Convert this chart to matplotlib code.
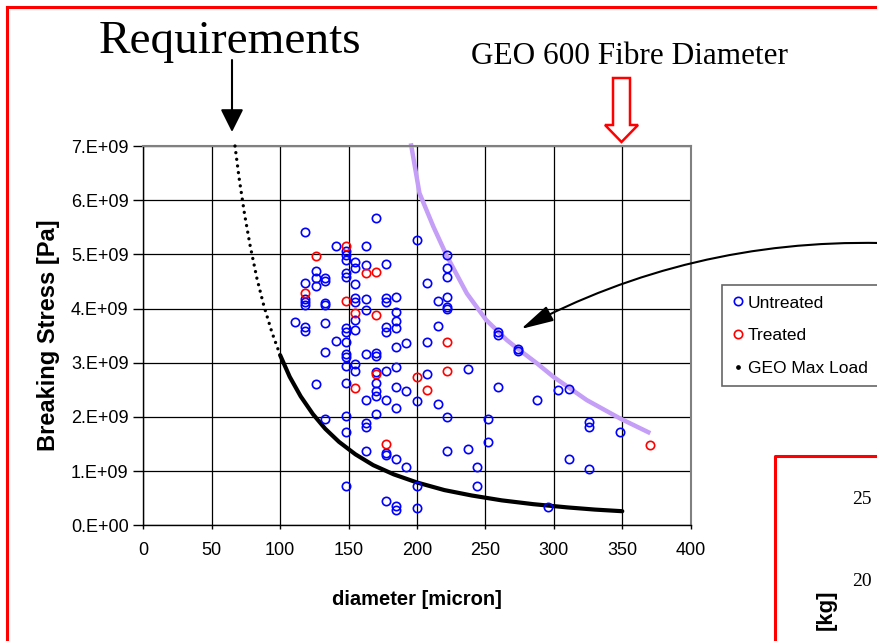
import numpy as np
import matplotlib.pyplot as plt
from matplotlib.lines import Line2D
from matplotlib.patches import Polygon

plt.rcParams['font.family'] = ['Liberation Sans', 'DejaVu Sans']

## untreated fibres: diameter [micron] and breaking stress [1e9 Pa]
untreated_d = ([111] + [118]*7 + [126]*4 + [133]*7 + [141]*2 + [148]*15 + [155]*9 +
               [163]*9 + [170]*8 + [177]*10 + [185]*11 + [192]*3 + [200]*4 +
               [207]*3 + [215]*3 + [222]*8 + [237]*2 + [244]*2 + [252]*2 + [259]*3 +
               [274]*2 + [288] + [296] + [303] + [311]*2 + [326]*3 + [348])
untreated_s = [3.76,
               5.42, 4.47, 4.17, 4.12, 4.07, 3.66, 3.59,
               4.70, 4.57, 4.42, 2.61,
               4.57, 4.50, 4.10, 4.07, 3.73, 3.20, 1.96,
               5.15, 3.41,
               5.06, 4.99, 4.89, 4.65, 4.59, 3.65, 3.56, 3.39, 3.17, 3.11, 2.94, 2.62, 2.02, 1.73, 0.73,
               4.86, 4.74, 4.45, 4.19, 4.12, 3.79, 3.61, 2.98, 2.85,
               5.15, 4.80, 4.18, 3.97, 3.17, 2.31, 1.89, 1.82, 1.38,
               5.68, 3.18, 3.13, 2.83, 2.62, 2.47, 2.39, 2.05,
               4.82, 4.19, 4.12, 3.66, 3.57, 2.85, 2.31, 1.34, 1.30, 0.45,
               4.21, 3.94, 3.77, 3.65, 3.29, 2.92, 2.56, 2.17, 1.23, 0.36, 0.28,
               3.36, 2.47, 1.08,
               5.27, 2.29, 0.73, 0.32,
               4.47, 3.39, 2.79,
               4.14, 3.68, 2.23,
               4.98, 4.74, 4.59, 4.21, 4.02, 3.99, 1.99, 1.38,
               2.88, 1.41,
               1.08, 0.73,
               1.96, 1.53,
               3.56, 3.52, 2.56,
               3.25, 3.21,
               2.32,
               0.34,
               2.50,
               2.52, 1.23,
               1.91, 1.82, 1.03,
               1.73]

## treated fibres
treated_d = [118, 126, 148, 148, 155, 155, 163, 170, 170, 170, 177, 200, 207, 222, 222, 370]
treated_s = [4.29, 4.97, 5.15, 4.14, 3.91, 2.53, 4.65, 4.67, 3.88, 2.79, 1.50, 2.73, 2.50, 3.38, 2.85, 1.49]

## GEO max load curve
geo_d = [67, 70, 74, 78, 83, 88, 94, 100, 107, 115, 124, 133, 143, 155, 168, 183,
         200, 220, 240, 262, 285, 310, 330, 350]
geo_s = [7.00, 6.41, 5.74, 5.17, 4.56, 4.06, 3.56, 3.14, 2.74, 2.38, 2.05, 1.78, 1.54,
         1.31, 1.11, 0.94, 0.79, 0.65, 0.55, 0.46, 0.39, 0.33, 0.29, 0.26]

## lavender curve
lav_d = [195.5, 201.8, 212, 221.8, 236.4, 250.5, 265.6, 273, 287.6, 299.7, 324.1, 348.5, 370.5]
lav_s = [7.05, 6.13, 5.51, 4.97, 4.28, 3.79, 3.42, 3.27, 2.99, 2.74, 2.31, 1.97, 1.70]

xticks = [0, 50, 100, 150, 200, 250, 300, 350, 400]
yticks = [0, 1, 2, 3, 4, 5, 6, 7]
ytick_labels = ['0.E+00', '1.E+09', '2.E+09', '3.E+09', '4.E+09', '5.E+09', '6.E+09', '7.E+09']

W, H = 878, 641
def fp(x, y):
    ## image pixel -> figure fraction
    return (x / W, 1 - y / H)

fig = plt.figure(figsize=(W / 100, H / 100), dpi=100)
ax = fig.add_axes([143.3 / W, 1 - 525.3 / H, (690.7 - 143.3) / W, (525.3 - 146) / H])

e9 = 1e9
ax.plot(lav_d, np.array(lav_s) * e9, color='#c49ef7', lw=3.2, solid_capstyle='butt', clip_on=False, zorder=2)

geo_d = np.array(geo_d); geo_s = np.array(geo_s) * e9
top = geo_d <= 100
ax.plot(geo_d[top], geo_s[top], color='black', lw=2.4, ls=(0, (0.01, 2.0)),
        dash_capstyle='round', clip_on=False, zorder=3)
low = geo_d >= 100
ax.plot(geo_d[low], geo_s[low], color='black', lw=3, solid_capstyle='round', zorder=3)

ax.plot(untreated_d, np.array(untreated_s) * e9, ls='', marker='o', ms=6, mfc='none',
        mec='blue', mew=1.2, zorder=4)
ax.plot(treated_d, np.array(treated_s) * e9, ls='', marker='o', ms=6, mfc='none',
        mec='red', mew=1.2, zorder=5)

ax.set_xlim(0, 400)
ax.set_ylim(0, 7 * e9)
ax.set_xticks(xticks)
ax.set_yticks(np.array(yticks) * e9)
ax.set_yticklabels(ytick_labels)
ax.grid(color='black', lw=0.9)
ax.set_axisbelow(True)
for s in ['left', 'bottom']:
    ax.spines[s].set_color('black'); ax.spines[s].set_linewidth(1.0)
for s in ['top', 'right']:
    ax.spines[s].set_color('#808080'); ax.spines[s].set_linewidth(1.5)
ax.tick_params(axis='y', direction='out', length=7, width=1, pad=3.5, labelsize=13)
ax.tick_params(axis='x', direction='out', length=3, width=1, pad=9, labelsize=13)

ax.set_xlabel('diameter [micron]', fontsize=14.5, fontweight='bold')
ax.xaxis.set_label_coords(0.5, -(590 - 525.3) / 379.3)
ax.xaxis.label.set_va('top')
ax.set_ylabel('Breaking Stress [Pa]', fontsize=17, fontweight='bold')
ax.yaxis.set_label_coords(-(143.3 - 60) / 547.4, 0.5)

handles = [Line2D([], [], ls='', marker='o', ms=6, mfc='none', mec='blue', mew=1.2),
           Line2D([], [], ls='', marker='o', ms=6, mfc='none', mec='red', mew=1.2),
           Line2D([], [], ls='', marker='o', ms=2.4, color='black')]
leg = fig.legend(handles, ['Untreated', 'Treated', 'GEO Max Load'], loc='upper left',
                 bbox_to_anchor=fp(722, 285), borderaxespad=0, fancybox=False,
                 edgecolor='#404040', fontsize=12.5, handlelength=0.6,
                 handletextpad=0.3, borderpad=0.6, labelspacing=1.0)
leg.get_frame().set_linewidth(1.2)

## slide decorations
red = '#ff0000'
fig.add_artist(Line2D([7 / W, 1.01], [1 - 7 / H] * 2, color=red, lw=2.2, transform=fig.transFigure))
fig.add_artist(Line2D([7 / W] * 2, [1 - 7 / H, -0.01], color=red, lw=2.2, transform=fig.transFigure))
fig.add_artist(Line2D([775 / W, 775 / W, 1.01], [-0.01, 1 - 456 / H, 1 - 456 / H], color=red,
                      lw=2.2, transform=fig.transFigure))

fig.text(*fp(230, 53), 'Requirements', ha='center', va='baseline', fontsize=34,
         family='Liberation Serif')
fig.text(*fp(630, 64), 'GEO 600 Fibre Diameter', ha='center', va='baseline', fontsize=22.5,
         family='Liberation Serif')
fig.text(*fp(862, 500), '25', ha='center', va='center', fontsize=14, family='Liberation Serif')
fig.text(*fp(862, 582), '20', ha='center', va='center', fontsize=14, family='Liberation Serif')
fig.text(*fp(826, 610), '[kg]', ha='center', va='center', rotation=90, fontsize=16,
         fontweight='bold')

ax.annotate('', xy=(232, H - 132), xycoords='figure pixels', xytext=(232, H - 60),
            textcoords='figure pixels', annotation_clip=False,
            arrowprops=dict(arrowstyle='-|>,head_length=0.7,head_width=0.35', color='black',
                            lw=1.5, mutation_scale=20, shrinkA=0, shrinkB=0))
ax.annotate('', xy=(521, H - 329), xycoords='figure pixels', xytext=(880, H - 243),
            textcoords='figure pixels', annotation_clip=False,
            arrowprops=dict(arrowstyle='-|>,head_length=1.0,head_width=0.25', color='black',
                            lw=1.5, mutation_scale=20, shrinkA=0, shrinkB=0,
                            connectionstyle='arc3,rad=0.13'))

hollow = [(613, 78), (630, 78), (630, 125), (638, 125), (621.5, 142), (605, 125), (613, 125)]
fig.add_artist(Polygon([fp(x, y) for x, y in hollow], closed=True, facecolor='white',
                       edgecolor=red, lw=1.8, transform=fig.transFigure))

fig.savefig('out.png', dpi=100)
